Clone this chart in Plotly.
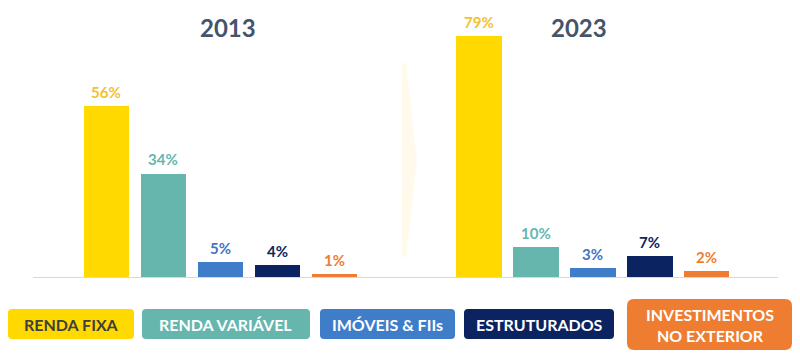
import plotly.graph_objects as go

# ---- data ----
categories = ["RENDA FIXA", "RENDA VARIÁVEL", "IMÓVEIS & FIIs", "ESTRUTURADOS", "INVESTIMENTOS NO EXTERIOR"]
legend_labels = ["RENDA FIXA", "RENDA VARIÁVEL", "IMÓVEIS & FIIs", "ESTRUTURADOS", "INVESTIMENTOS<br>NO EXTERIOR"]
years = ["2013", "2023"]
values_2013 = [56, 34, 5, 4, 1]
values_2023 = [79, 10, 3, 7, 2]

# ---- style ----
bar_colors = ["#FFD900", "#66B6AE", "#3F7DC8", "#0B2461", "#EE7D31"]
label_colors = ["#F2C12E", "#66B6AE", "#4472C4", "#0B2461", "#EE7D31"]
legend_text_colors = ["#404040", "#FFFFFF", "#FFFFFF", "#FFFFFF", "#FFFFFF"]
title_color = "#44546A"
W, H = 800, 356
FONT = "Lato"


def px(x):
    return x / W


def py(y):
    return 1 - y / H


fig = go.Figure()

panels = [("x", "y", values_2013), ("x2", "y2", values_2023)]
for xa, ya, vals in panels:
    fig.add_trace(go.Bar(
        x=categories, y=vals, xaxis=xa, yaxis=ya,
        marker=dict(color=bar_colors, line=dict(width=0)),
        width=0.79, showlegend=False, hoverinfo="skip",
    ))
    for c, v, col in zip(categories, vals, label_colors):
        fig.add_annotation(
            x=c, y=v, xref=xa, yref=ya, text=f"<b>{v}%</b>",
            showarrow=False, yanchor="bottom", yshift=3,
            font=dict(family=FONT, size=15, color=col),
        )

y_bottom = 277
ppu = 3.05
y_range = [0, 85]
ydom = [py(y_bottom), py(y_bottom - y_range[1] * ppu)]

axis_common = dict(showgrid=False, zeroline=False, showticklabels=False, ticks="",
                   showline=True, linecolor="#D9D9D9", linewidth=1, fixedrange=True)
fig.update_layout(
    xaxis=dict(domain=[px(33), px(407)], range=[-1.289, 5.272], anchor="y", **axis_common),
    xaxis2=dict(domain=[px(407), px(778)], range=[-1.263, 5.246], anchor="y2", **axis_common),
    yaxis=dict(domain=ydom, range=y_range, visible=False, fixedrange=True),
    yaxis2=dict(domain=ydom, range=y_range, visible=False, fixedrange=True, anchor="x2"),
)

# year titles
for yr, cx in zip(years, [228, 579]):
    fig.add_annotation(x=px(cx), y=py(28), xref="paper", yref="paper", text=f"<b>{yr}</b>",
                       showarrow=False, xanchor="center", yanchor="middle",
                       font=dict(family=FONT, size=24, color=title_color))

# faint arrow between panels
arrow = (f"M {px(402)},{py(63)} L {px(406)},{py(63)} L {px(417)},{py(160)} "
         f"L {px(406)},{py(257)} L {px(402)},{py(257)} Z")
fig.add_shape(type="path", path=arrow, xref="paper", yref="paper",
              fillcolor="rgba(255,232,170,0.22)", line=dict(width=0), layer="below")


def rrect(x0, y0, x1, y1, r):
    pts = [
        f"M {px(x0 + r)},{py(y0)}", f"L {px(x1 - r)},{py(y0)}",
        f"Q {px(x1)},{py(y0)} {px(x1)},{py(y0 + r)}", f"L {px(x1)},{py(y1 - r)}",
        f"Q {px(x1)},{py(y1)} {px(x1 - r)},{py(y1)}", f"L {px(x0 + r)},{py(y1)}",
        f"Q {px(x0)},{py(y1)} {px(x0)},{py(y1 - r)}", f"L {px(x0)},{py(y0 + r)}",
        f"Q {px(x0)},{py(y0)} {px(x0 + r)},{py(y0)}", "Z",
    ]
    return " ".join(pts)


legend_boxes = [(8, 309, 134, 339, 4), (142, 309, 310, 339, 4), (320, 309, 455, 339, 4),
                (464, 309, 614, 339, 4), (627, 299, 792, 350, 7)]
for lab, (x0, y0, x1, y1, r), bc, tc in zip(legend_labels, legend_boxes, bar_colors, legend_text_colors):
    fig.add_shape(type="path", path=rrect(x0, y0, x1, y1, r), xref="paper", yref="paper",
                  fillcolor=bc, line=dict(width=0))
    fig.add_annotation(x=px((x0 + x1) / 2), y=py((y0 + y1) / 2), xref="paper", yref="paper",
                       text=f"<b>{lab}</b>", showarrow=False, xanchor="center", yanchor="middle",
                       font=dict(family=FONT, size=16, color=tc))

fig.update_layout(
    width=W, height=H, autosize=False,
    margin=dict(l=0, r=0, t=0, b=0, pad=0),
    paper_bgcolor="white", plot_bgcolor="rgba(0,0,0,0)",
    bargap=0, showlegend=False,
)

fig.write_html("out.html", config={"displayModeBar": False},
               post_script="document.body.style.margin='0';document.body.style.padding='0';")
